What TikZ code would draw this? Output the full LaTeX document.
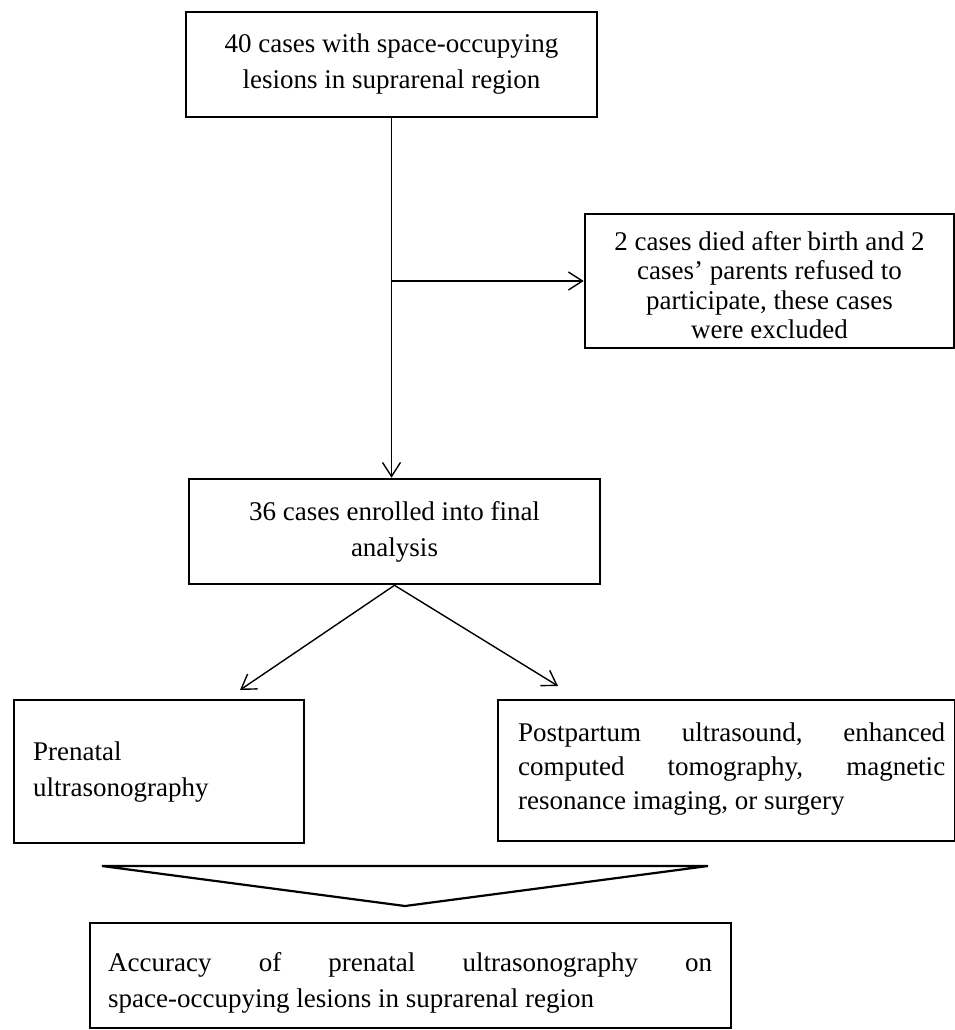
\documentclass[tikz,border=0pt]{standalone}
\usepackage{fontspec}
\setmainfont{Liberation Serif}
\usetikzlibrary{arrows.meta}
\begin{document}
\begin{tikzpicture}[x=1pt,y=-1pt,
  box/.style={draw, line width=2.6pt, inner sep=0pt},
  conn/.style={line width=1.4pt, -{Straight Barb[length=14pt,width=18pt,line width=1.4pt]}},
  txt/.style={font=\fontsize{27}{36}\selectfont, inner sep=0pt}]
\useasboundingbox (0,0) rectangle (955,1030);

\node[box, txt, minimum width=411pt, minimum height=105pt, align=center] (b1) at (391.5,64.5)
  {40 cases with space-occupying\\lesions in suprarenal region};

\node[box, minimum width=369pt, minimum height=134pt] (b3) at (769.5,281) {};
\node[inner sep=0pt, align=center, font=\fontsize{27}{29.5}\selectfont] (t3) at (769.5,285)
  {2 cases died after birth and 2\\cases’ parents refused to\\participate, these cases\\were excluded};

\node[box, txt, minimum width=411pt, minimum height=105pt, align=center] (b2) at (394.5,531.5)
  {36 cases enrolled into final\\analysis};

\node[box, minimum width=290pt, minimum height=143pt] (b4) at (159,771.5) {};
\node[txt, anchor=west, align=left] (t4) at (33,772) {Prenatal\\ultrasonography};

\node[box, minimum width=457pt, minimum height=141pt] (b5) at (726.5,770.5) {};
\node[txt, anchor=west, align=left, font=\fontsize{27}{34}\selectfont] (t5) at (518,769)
  {\makebox[427pt][s]{Postpartum\hfill ultrasound,\hfill enhanced}\\
   \makebox[427pt][s]{computed\hfill tomography,\hfill magnetic}\\
   resonance imaging, or surgery};

\coordinate (tl) at (102,866);
\coordinate (tr) at (708,866);
\coordinate (ta) at (405,906);
\draw[line width=2.2pt] (tl) -- (tr) -- (ta) -- cycle;

\node[box, minimum width=641pt, minimum height=105pt] (b6) at (410.5,975.5) {};
\node[txt, anchor=west, align=left] (t6) at (108,983)
  {\makebox[604pt][s]{Accuracy\hfill of\hfill prenatal\hfill ultrasonography\hfill on}\\
   space-occupying lesions in suprarenal region};

\draw[conn] (b1.south) -- (b1.south |- b2.north);
\coordinate (br) at (b1.south |- b3.west);
\draw[conn] (br) -- (b3.west);
\coordinate (e4) at (240,690);
\coordinate (e5) at (558,686);
\draw[conn] (b2.south) -- (e4);
\draw[conn] (b2.south) -- (e5);
\end{tikzpicture}
\end{document}
